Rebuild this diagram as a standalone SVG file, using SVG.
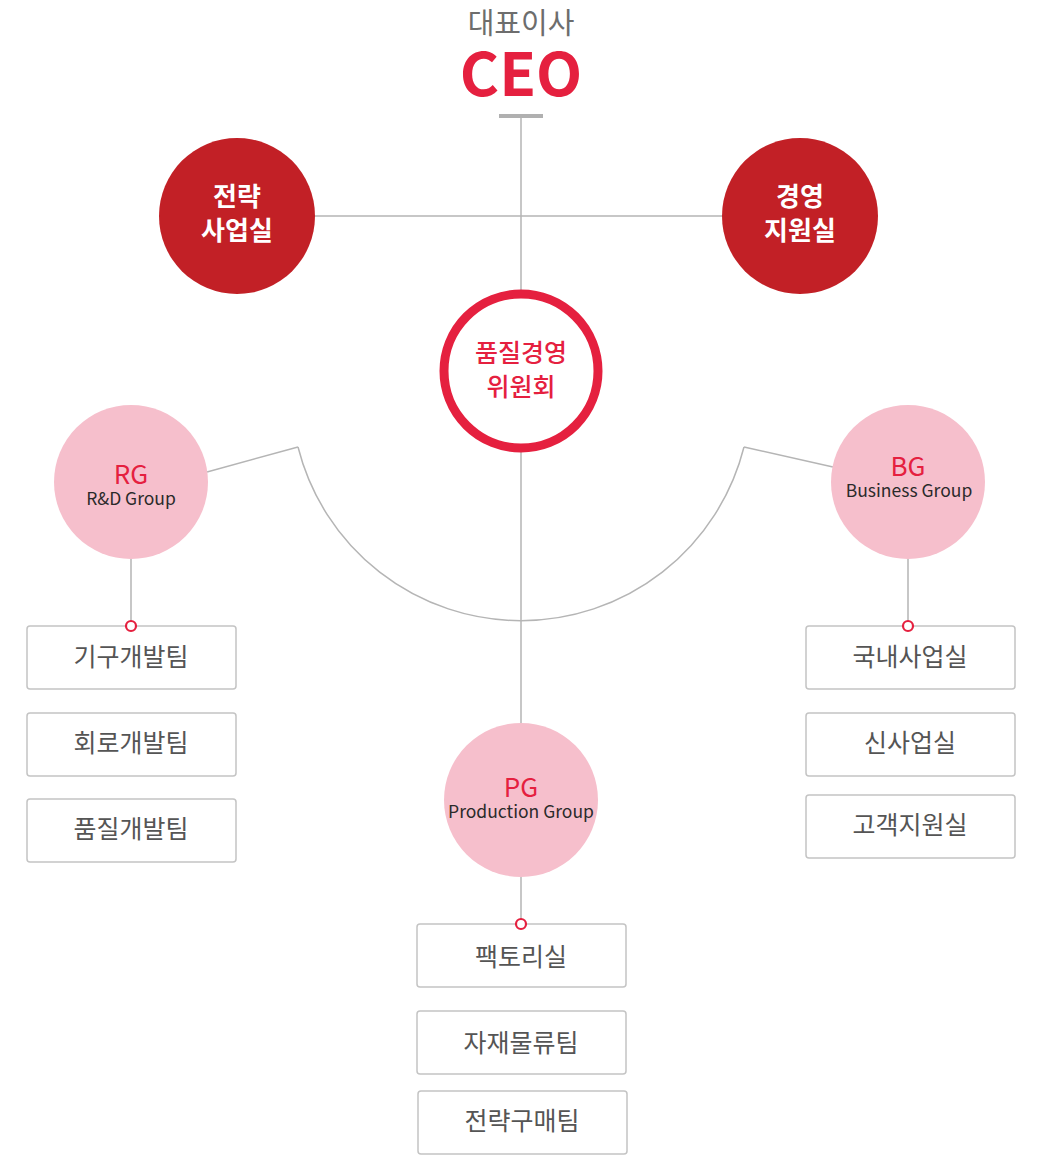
<svg xmlns="http://www.w3.org/2000/svg" width="1038" height="1168" viewBox="0 0 1038 1168">
<style>
.ln{stroke:#b5b5b5;stroke-width:1.5;fill:none}
.dot{fill:#fff;stroke:#e5203f;stroke-width:2.2}
.box{fill:#fff;stroke:#c4c4c4;stroke-width:1.5}
.bt{font-family:"Noto Sans CJK KR","Noto Sans",sans-serif;font-size:25px;fill:#555;text-anchor:middle}
.top{fill:#c22026}
.tt{font-family:"Noto Sans CJK KR","Noto Sans",sans-serif;font-size:26px;font-weight:bold;fill:#fff;text-anchor:middle}
.pink{fill:#f6bfcc}
.gt{font-family:"Noto Sans CJK KR","Noto Sans",sans-serif;font-size:26px;fill:#e5203f;text-anchor:middle}
.gs{font-family:"Noto Sans CJK KR","Noto Sans",sans-serif;font-size:17.5px;fill:#2a2a2a;text-anchor:middle}
</style>
<g id="connectors">
<line class="ln" x1="521" y1="118" x2="521" y2="292"/>
<line class="ln" x1="314" y1="216" x2="724" y2="216"/>
<line class="ln" x1="521" y1="452" x2="521" y2="724"/>
<path class="ln" d="M298,447 A230,230 0 0 0 744,447"/>
<line class="ln" x1="207" y1="472" x2="298" y2="447"/>
<line class="ln" x1="833" y1="467" x2="744" y2="447"/>
<line class="ln" x1="131" y1="558" x2="131" y2="626"/>
<line class="ln" x1="908" y1="558" x2="908" y2="626"/>
<line class="ln" x1="521" y1="876" x2="521" y2="924"/>
</g>
<g id="ceo">
<text x="521" y="34" font-family="'Noto Sans CJK KR','Noto Sans',sans-serif" font-size="29" fill="#6d6d6d" text-anchor="middle">대표이사</text>
<text x="521" y="96" font-family="'Noto Sans CJK KR','Noto Sans',sans-serif" font-size="60" font-weight="bold" fill="#e5203f" text-anchor="middle">CEO</text>
<rect x="499" y="114" width="44" height="4" fill="#b0b0b0"/>
</g>
<g id="strategy">
<circle class="top" cx="237" cy="216" r="78"/>
<text class="tt" x="237" y="206">전략</text>
<text class="tt" x="237" y="240">사업실</text>
</g>
<g id="management">
<circle class="top" cx="800" cy="216" r="78"/>
<text class="tt" x="800" y="206">경영</text>
<text class="tt" x="800" y="240">지원실</text>
</g>
<g id="committee">
<circle cx="521" cy="371" r="77" fill="#fff" stroke="#e5203f" stroke-width="9"/>
<text x="521" y="362" font-family="'Noto Sans CJK KR','Noto Sans',sans-serif" font-size="25" font-weight="500" fill="#e5203f" text-anchor="middle">품질경영</text>
<text x="521" y="396" font-family="'Noto Sans CJK KR','Noto Sans',sans-serif" font-size="25" font-weight="500" fill="#e5203f" text-anchor="middle">위원회</text>
</g>
<g id="rg">
<circle class="pink" cx="131" cy="482" r="77"/>
<text class="gt" x="131" y="484">RG</text>
<text class="gs" x="131" y="505">R&amp;D Group</text>
</g>
<g id="bg">
<circle class="pink" cx="908" cy="482" r="77"/>
<text class="gt" x="908" y="476">BG</text>
<text class="gs" x="909" y="497">Business Group</text>
</g>
<g id="pg">
<circle class="pink" cx="521" cy="800" r="77"/>
<text class="gt" x="521" y="797">PG</text>
<text class="gs" x="521" y="818">Production Group</text>
</g>
<g id="rg-teams">
<rect class="box" x="27" y="626" width="209" height="63" rx="3"/>
<text class="bt" x="131" y="666">기구개발팀</text>
<rect class="box" x="27" y="713" width="209" height="63" rx="3"/>
<text class="bt" x="131" y="752">회로개발팀</text>
<rect class="box" x="27" y="799" width="209" height="63" rx="3"/>
<text class="bt" x="131" y="838">품질개발팀</text>
<circle class="dot" cx="131" cy="626" r="5"/>
</g>
<g id="bg-teams">
<rect class="box" x="806" y="626" width="209" height="63" rx="3"/>
<text class="bt" x="910" y="666">국내사업실</text>
<rect class="box" x="806" y="713" width="209" height="63" rx="3"/>
<text class="bt" x="910" y="752">신사업실</text>
<rect class="box" x="806" y="795" width="209" height="63" rx="3"/>
<text class="bt" x="910" y="834">고객지원실</text>
<circle class="dot" cx="908" cy="626" r="5"/>
</g>
<g id="pg-teams">
<rect class="box" x="417" y="924" width="209" height="63" rx="3"/>
<text class="bt" x="521" y="966">팩토리실</text>
<rect class="box" x="417" y="1011" width="209" height="63" rx="3"/>
<text class="bt" x="521" y="1052">자재물류팀</text>
<rect class="box" x="418" y="1091" width="209" height="63" rx="3"/>
<text class="bt" x="522" y="1130">전략구매팀</text>
<circle class="dot" cx="521" cy="924" r="5"/>
</g>
</svg>
